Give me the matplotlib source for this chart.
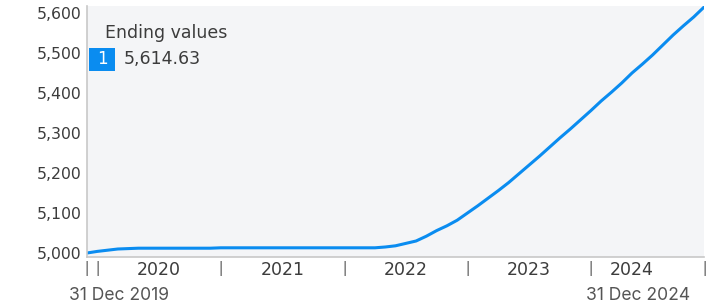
"""
Index growth line chart, 31 Dec 2019 - 31 Dec 2024, with an 'Ending values' badge.
Saved as out.png (714x306).
"""

import matplotlib
matplotlib.use("Agg")
import matplotlib.pyplot as plt
from matplotlib.patches import Rectangle
from matplotlib.transforms import blended_transform_factory

LINE_BLUE = "#0A8CF0"
PANEL_BG  = "#F4F5F7"
AXIS_GRAY = "#C8C8C8"
TEXT_DARK = "#3C3C3C"
TEXT_MID  = "#555555"

# monthly points, month 0 = Dec 2019 ... month 60 = Dec 2024
months = list(range(61))
values = [
    5000, 5004, 5007, 5010, 5011, 5012, 5012, 5012, 5012, 5012, 5012, 5012, 5012,
    5013, 5013, 5013, 5013, 5013, 5013, 5013, 5013, 5013, 5013, 5013, 5013, 5013,
    5013, 5013, 5013, 5015, 5018, 5024, 5030, 5042, 5056, 5068, 5082, 5100, 5118,
    5137, 5156, 5176, 5198, 5220, 5242, 5265, 5288, 5310, 5333, 5356, 5380, 5402,
    5425, 5450, 5472, 5495, 5520, 5545, 5568, 5590, 5614.63,
]

y_ticks = [5000, 5100, 5200, 5300, 5400, 5500, 5600]
year_labels = ["2020", "2021", "2022", "2023", "2024"]
year_label_pos = [7, 19, 31, 43, 53]
separator_pos = [0, 1, 13, 25, 37, 49, 60]
start_label = "31 Dec 2019"
end_label = "31 Dec 2024"
ending_value = values[-1]

fig = plt.figure(figsize=(7.14, 3.06), dpi=100, facecolor="white")
ax = fig.add_axes([87 / 714, 49 / 306, 617 / 714, 251 / 306])
ax.set_facecolor(PANEL_BG)

ax.plot(months, values, color=LINE_BLUE, linewidth=2.2, solid_capstyle="round")

ax.set_xlim(0, 60)
ax.set_ylim(4990, 5617.5)

ax.set_yticks(y_ticks)
ax.set_yticklabels([f"{v:,}" for v in y_ticks], fontsize=11.3, color=TEXT_DARK,
                   family="DejaVu Sans")
ax.tick_params(axis="y", length=0, pad=4)

ax.set_xticks(separator_pos)
ax.set_xticklabels(["|"] * len(separator_pos), fontsize=11, color=TEXT_DARK,
                   family="Open Sans")
ax.set_xticks(year_label_pos, minor=True)
ax.set_xticklabels(year_labels, minor=True, fontsize=12.5, color=TEXT_DARK,
                   family="DejaVu Sans")
ax.tick_params(axis="x", which="both", length=0, pad=3)

for side in ["top", "right"]:
    ax.spines[side].set_visible(False)
for side in ["left", "bottom"]:
    ax.spines[side].set_color(AXIS_GRAY)
    ax.spines[side].set_linewidth(1.2)

# start / end date labels under the axis
tr = blended_transform_factory(ax.transData, ax.transAxes)
date_font = ["Liberation Sans Narrow", "Inter"]
ax.text(3.1, -0.155, start_label, transform=tr, ha="center", va="center",
        fontsize=12.6, color=TEXT_MID, family=date_font)
ax.text(53.6, -0.155, end_label, transform=tr, ha="center", va="center",
        fontsize=12.6, color=TEXT_MID, family=date_font)

# ending values badge
ax.text(18 / 617, 1 - 27 / 251, "Ending values", transform=ax.transAxes,
        ha="left", va="center", fontsize=12.5, color=TEXT_DARK, family="DejaVu Sans")
ax.add_patch(Rectangle((2 / 617, 1 - 65 / 251), 26 / 617, 23 / 251,
                       transform=ax.transAxes, facecolor=LINE_BLUE, edgecolor="none"))
ax.text(15 / 617, 1 - 53.5 / 251, "1", transform=ax.transAxes,
        ha="center", va="center", fontsize=12, color="white", family="DejaVu Sans")
ax.text(37 / 617, 1 - 53 / 251, f"{ending_value:,.2f}", transform=ax.transAxes,
        ha="left", va="center", fontsize=12.5, color=TEXT_DARK, family="DejaVu Sans")

fig.savefig("out.png", dpi=100, facecolor=fig.get_facecolor())
